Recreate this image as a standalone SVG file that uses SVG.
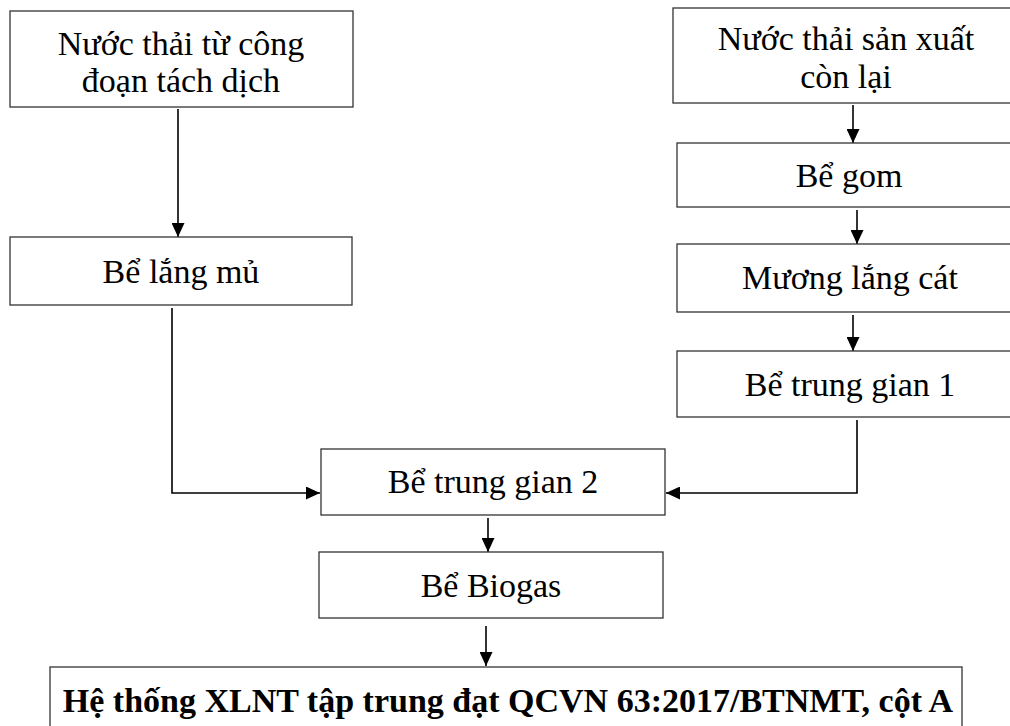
<svg xmlns="http://www.w3.org/2000/svg" width="1010" height="726" viewBox="0 0 1010 726">
<style>
.box{fill:#fff;stroke:#333;stroke-width:1.3}
.t{font-family:"Liberation Serif","Times New Roman",serif;font-size:34px;fill:#000;text-anchor:middle}
.b{font-weight:bold}
.c{fill:none;stroke:#000;stroke-width:1.6}
</style>
<defs>
<marker id="ah" viewBox="0 0 14 13" refX="14" refY="6.5" markerWidth="14" markerHeight="13" markerUnits="userSpaceOnUse" orient="auto">
<path d="M0,0 L14,6.5 L0,13 Z" fill="#000"/>
</marker>
</defs>
<rect width="1010" height="726" fill="#fff"/>
<g id="connectors">
<path class="c" d="M178,109 V237" marker-end="url(#ah)"/>
<path class="c" d="M172,308 V493 H320" marker-end="url(#ah)"/>
<path class="c" d="M853,105 V143" marker-end="url(#ah)"/>
<path class="c" d="M857,210 V244" marker-end="url(#ah)"/>
<path class="c" d="M853,315 V351" marker-end="url(#ah)"/>
<path class="c" d="M857,420 V493 H666" marker-end="url(#ah)"/>
<path class="c" d="M488,518 V552" marker-end="url(#ah)"/>
<path class="c" d="M486,626 V666" marker-end="url(#ah)"/>
</g>
<g id="n1"><rect class="box" x="10" y="11" width="343" height="96"/>
<text class="t" x="181" y="55">Nước thải từ công</text>
<text class="t" x="181" y="92">đoạn tách dịch</text></g>
<g id="n2"><rect class="box" x="10" y="237" width="342" height="68"/>
<text class="t" x="181" y="283">Bể lắng mủ</text></g>
<g id="n3"><rect class="box" x="673" y="8" width="350" height="95"/>
<text class="t" x="846" y="50">Nước thải sản xuất</text>
<text class="t" x="846" y="88">còn lại</text></g>
<g id="n4"><rect class="box" x="677" y="143" width="346" height="64"/>
<text class="t" x="849" y="187">Bể gom</text></g>
<g id="n5"><rect class="box" x="677" y="244" width="346" height="68"/>
<text class="t" x="850" y="289">Mương lắng cát</text></g>
<g id="n6"><rect class="box" x="677" y="351" width="346" height="66"/>
<text class="t" x="850" y="396">Bể trung gian 1</text></g>
<g id="n7"><rect class="box" x="321" y="449" width="344" height="66"/>
<text class="t" x="493" y="493">Bể trung gian 2</text></g>
<g id="n8"><rect class="box" x="319" y="552" width="344" height="66"/>
<text class="t" x="491" y="597">Bể Biogas</text></g>
<g id="n9"><rect class="box" x="50" y="667" width="912" height="80"/>
<text class="t b" x="508" y="712">Hệ thống XLNT tập trung đạt QCVN 63:2017/BTNMT, cột A</text></g>
</svg>
